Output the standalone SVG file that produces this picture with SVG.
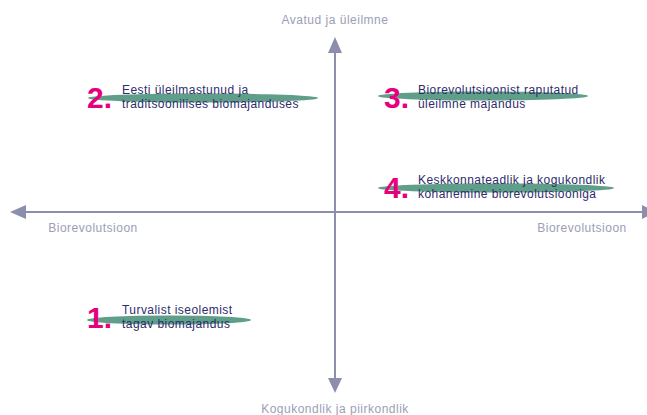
<svg xmlns="http://www.w3.org/2000/svg" width="647" height="415" viewBox="0 0 647 415">
<style>
.ax{stroke:#8b8fab;stroke-width:2;fill:none}
.ah{fill:#8b8fab}
.al{font-family:"Liberation Sans",Arial,sans-serif;font-size:12px;letter-spacing:0.5px;fill:#9a9eb6}
.el{fill:#5f9e88}
.num{font-family:"Liberation Sans",Arial,sans-serif;font-size:30px;font-weight:bold;fill:#e6007e}
.tx{font-family:"Liberation Sans",Arial,sans-serif;font-size:12px;letter-spacing:0.45px;fill:#2e2b6b}
</style>
<rect width="647" height="415" fill="#ffffff"/>
<g id="connectors">
<line class="ax" x1="24" y1="212" x2="645" y2="212"/>
<polygon class="ah" points="10,212 26,205 26,219"/>
<polygon class="ah" points="656,212 642,205 642,219"/>
<line class="ax" x1="335" y1="50" x2="335" y2="382"/>
<polygon class="ah" points="335,37 328,53 342,53"/>
<polygon class="ah" points="335,393 328,378 342,378"/>
</g>
<g id="axis-labels">
<text class="al" x="335" y="24" text-anchor="middle">Avatud ja üleilmne</text>
<text class="al" x="335" y="413" text-anchor="middle">Kogukondlik ja piirkondlik</text>
<text class="al" x="93" y="232" text-anchor="middle">Biorevolutsioon</text>
<text class="al" x="582" y="232" text-anchor="middle">Biorevolutsioon</text>
</g>
<g id="node2">
<ellipse class="el" cx="203" cy="98" rx="115" ry="4.5"/>
<text class="num" x="87" y="108">2.</text>
<text class="tx" x="122" y="94">Eesti üleilmastunud ja</text>
<text class="tx" x="122" y="108">traditsoonilises biomajanduses</text>
</g>
<g id="node3">
<ellipse class="el" cx="483" cy="96" rx="105" ry="4.5"/>
<text class="num" x="384" y="108">3.</text>
<text class="tx" x="418" y="94">Biorevolutsioonist raputatud</text>
<text class="tx" x="418" y="108">üleilmne majandus</text>
</g>
<g id="node4">
<ellipse class="el" cx="496" cy="188" rx="118" ry="4.5"/>
<text class="num" x="384" y="198">4.</text>
<text class="tx" x="418" y="184">Keskkonnateadlik ja kogukondlik</text>
<text class="tx" x="418" y="198">kohanemine biorevolutsiooniga</text>
</g>
<g id="node1">
<ellipse class="el" cx="169" cy="320" rx="82" ry="4.5"/>
<text class="num" x="87" y="328">1.</text>
<text class="tx" x="122" y="314">Turvalist iseolemist</text>
<text class="tx" x="122" y="328">tagav biomajandus</text>
</g>
</svg>
